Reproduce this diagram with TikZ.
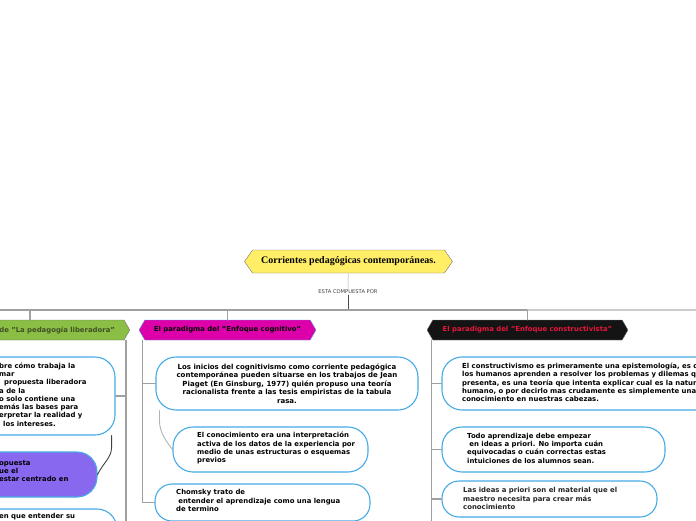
\documentclass[tikz,border=0pt]{standalone}
\usepackage{fontspec}
\setmainfont{DejaVu Sans}
\newfontfamily\titlefont{Liberation Serif}
\usetikzlibrary{calc, positioning}
\usetikzlibrary{shapes.symbols}

\begin{document}
\begin{tikzpicture}[x=1pt, y=-1pt, line join=round, line cap=round,
    topic/.style={shape=signal, signal to=east and west, signal pointer angle=120,
        minimum height=20pt, inner sep=0pt, font=\fontsize{6.9}{8}\selectfont\bfseries},
    idea/.style={draw=ideablue, line width=1.1pt, rounded corners=20pt, fill=white},
    words/.style={align=left, inner sep=0pt, font=\fontsize{6.9}{8.3}\selectfont\bfseries},
    branch/.style={draw=branchgray, line width=1.1pt}]
\definecolor{titleyellow}{RGB}{255,238,102}
\definecolor{libgreen}{RGB}{138,190,68}
\definecolor{libtext}{RGB}{66,80,40}
\definecolor{cogmagenta}{RGB}{221,0,170}
\definecolor{consblack}{RGB}{20,20,20}
\definecolor{consred}{RGB}{230,20,60}
\definecolor{ideablue}{RGB}{70,170,230}
\definecolor{ideapurple}{RGB}{137,104,240}
\definecolor{branchgray}{RGB}{160,160,160}

\useasboundingbox (0,0) rectangle (696,520);
\clip (0,0) rectangle (696,520);

% title and hub
\node[shape=signal, signal to=east and west, signal pointer angle=110,
    draw=black!55, fill=titleyellow, minimum width=208pt, minimum height=23pt,
    font=\titlefont\bfseries\fontsize{10}{11}\selectfont] (title) at (348.5,261.5)
    {Corrientes pedagógicas contemporáneas.};
\node[font=\fontsize{5.2}{6}\selectfont, text=black!75, inner sep=1pt] (compuesta)
    at (348,292) {ESTA COMPUESTA POR};
\coordinate (hub) at (348,310);
\coordinate (rowW) at (0,310);
\coordinate (rowE) at (696,310);
\coordinate (libtop) at (30,320);
\coordinate (floor) at (0,525);

% the three paradigms
\node[topic, signal to=east, fill=libgreen, draw=black!55, text=libtext,
    text width=140pt, align=right, inner xsep=9pt, anchor=east] (lib) at (130,330)
    {de "La pedagogía liberadora"};
\node[topic, fill=cogmagenta, draw=ideablue, minimum width=177pt] (cogn) at (227.5,330)
    {El paradigma del "Enfoque cognitivo"};
\node[topic, fill=consblack, draw=black!50, text=consred, minimum width=201pt] (cons)
    at (527.5,330) {El paradigma del "Enfoque constructivista"};

\draw[draw=black!15, line width=1pt] (title) -- (compuesta);
\draw[draw=black!70, line width=1pt] (compuesta) -- (hub);
\draw[branch] (rowW) -- (cons.north |- hub);
\draw[branch, draw=black!20] (cons.north |- hub) -- (rowE);
\draw[branch] (libtop) -- (libtop |- hub);
\draw[branch] (cogn.north) -- (cogn.north |- hub);
\draw[branch] (cons.north) -- (cons.north |- hub);

% liberadora
\node[idea, minimum width=160pt, minimum height=78pt] (bx1) at (35,396) {};
\node[idea, fill=ideapurple, minimum width=160pt, minimum height=45pt] (pur) at (17,474.5) {};
\node[idea, minimum width=160pt, minimum height=56pt] (bx3) at (37,537) {};
\node[words, anchor=west] (bx1txt) at (-1,394.5)
    {bre cómo trabaja la\\mar\\\hspace{5pt}propuesta liberadora\\a de la\\o solo contiene una\\emás las bases para\\erpretar la realidad y\\\hspace{4pt}los intereses.};
\node[words, anchor=west] (purtxt) at (-1,471) {opuesta\\ue el\\estar centrado en};
\node[words, anchor=west] (bx3txt) at (-1,517) {en que entender su};

% cognitivo
\node[idea, minimum width=262pt, minimum height=53pt, align=center,
    font=\fontsize{7}{8.5}\selectfont\bfseries] (inicios) at (287,383.5)
    {Los inicios del cognitivismo como corriente pedagógica\\contemporánea pueden situarse en los trabajos de Jean\\Piaget (En Ginsburg, 1977) quién propuso una teoría\\racionalista frente a las tesis empiristas de la tabula\\rasa.};
\node[idea, minimum width=195pt, minimum height=45pt] (conoc) at (270.5,449.5) {};
\node[idea, rounded corners=17pt, minimum width=215pt, minimum height=37pt] (chomsky) at (262.5,502.5) {};
\node[words, anchor=west] (conoctxt) at (197,448.3)
    {El conocimiento era una interpretación\\activa de los datos de la experiencia por\\medio de unas estructuras o esquemas\\previos};
\node[words, anchor=west] (chomskytxt) at (176,500.5)
    {Chomsky trato de\\\hspace{2.2pt}entender el aprendizaje como una lengua\\de termino};

% constructivista
\node[idea, minimum width=300pt, minimum height=53pt] (constr) at (592,383.5) {};
\node[idea, minimum width=223pt, minimum height=45pt] (todo) at (553.5,449.5) {};
\node[idea, rounded corners=17pt, minimum width=215pt, minimum height=36pt] (ideas) at (549.5,499) {};
\node[words, anchor=west] (constrtxt) at (462,382.5)
    {El constructivismo es primeramente una epistemología, es d\\los humanos aprenden a resolver los problemas y dilemas q\\presenta, es una teoría que intenta explicar cual es la natur\\humano, o por decirlo mas crudamente es simplemente una\\conocimiento en nuestras cabezas.};
\node[words, anchor=west] (todotxt) at (467,448)
    {Todo aprendizaje debe empezar\\\hspace{2.2pt}en ideas a priori. No importa cuán\\equivocadas o cuán correctas estas\\intuiciones de los alumnos sean.};
\node[words, anchor=west, text=black!85] (ideastxt) at (463,498.5)
    {Las ideas a priori son el material que el\\maestro necesita para crear más\\conocimiento};

% branches
\coordinate (libx) at ([xshift=-4pt]lib.east |- lib.south);
\coordinate (cogx) at ([xshift=4pt]cogn.west |- cogn.south);
\coordinate (consx) at ([xshift=5pt]cons.west |- cons.south);
\draw[branch] (libx) -- (libx |- floor);
\draw[branch] (bx1.east) -- (bx1.east -| libx);
\draw[branch] (cogx) |- (chomsky.west);
\draw[branch] (inicios.west) -- (inicios.west -| cogx);
\draw[branch] (consx) -- (consx |- floor);
\foreach \b in {constr, todo, ideas}
    \draw[branch] (\b.west) -- (\b.west -| consx);

% relations
\draw[draw=black!75, line width=0.9pt] ([xshift=-4pt]bx1.south east) -- ++(0,12)
    .. controls +(0,10) and +(6,-12) .. (pur.east);
\draw[draw=black!30, line width=0.9pt] ([xshift=4pt]inicios.south west) -- ++(0,10)
    .. controls +(0,12) and +(-6,-8) .. (conoc.west);
\end{tikzpicture}
\end{document}
